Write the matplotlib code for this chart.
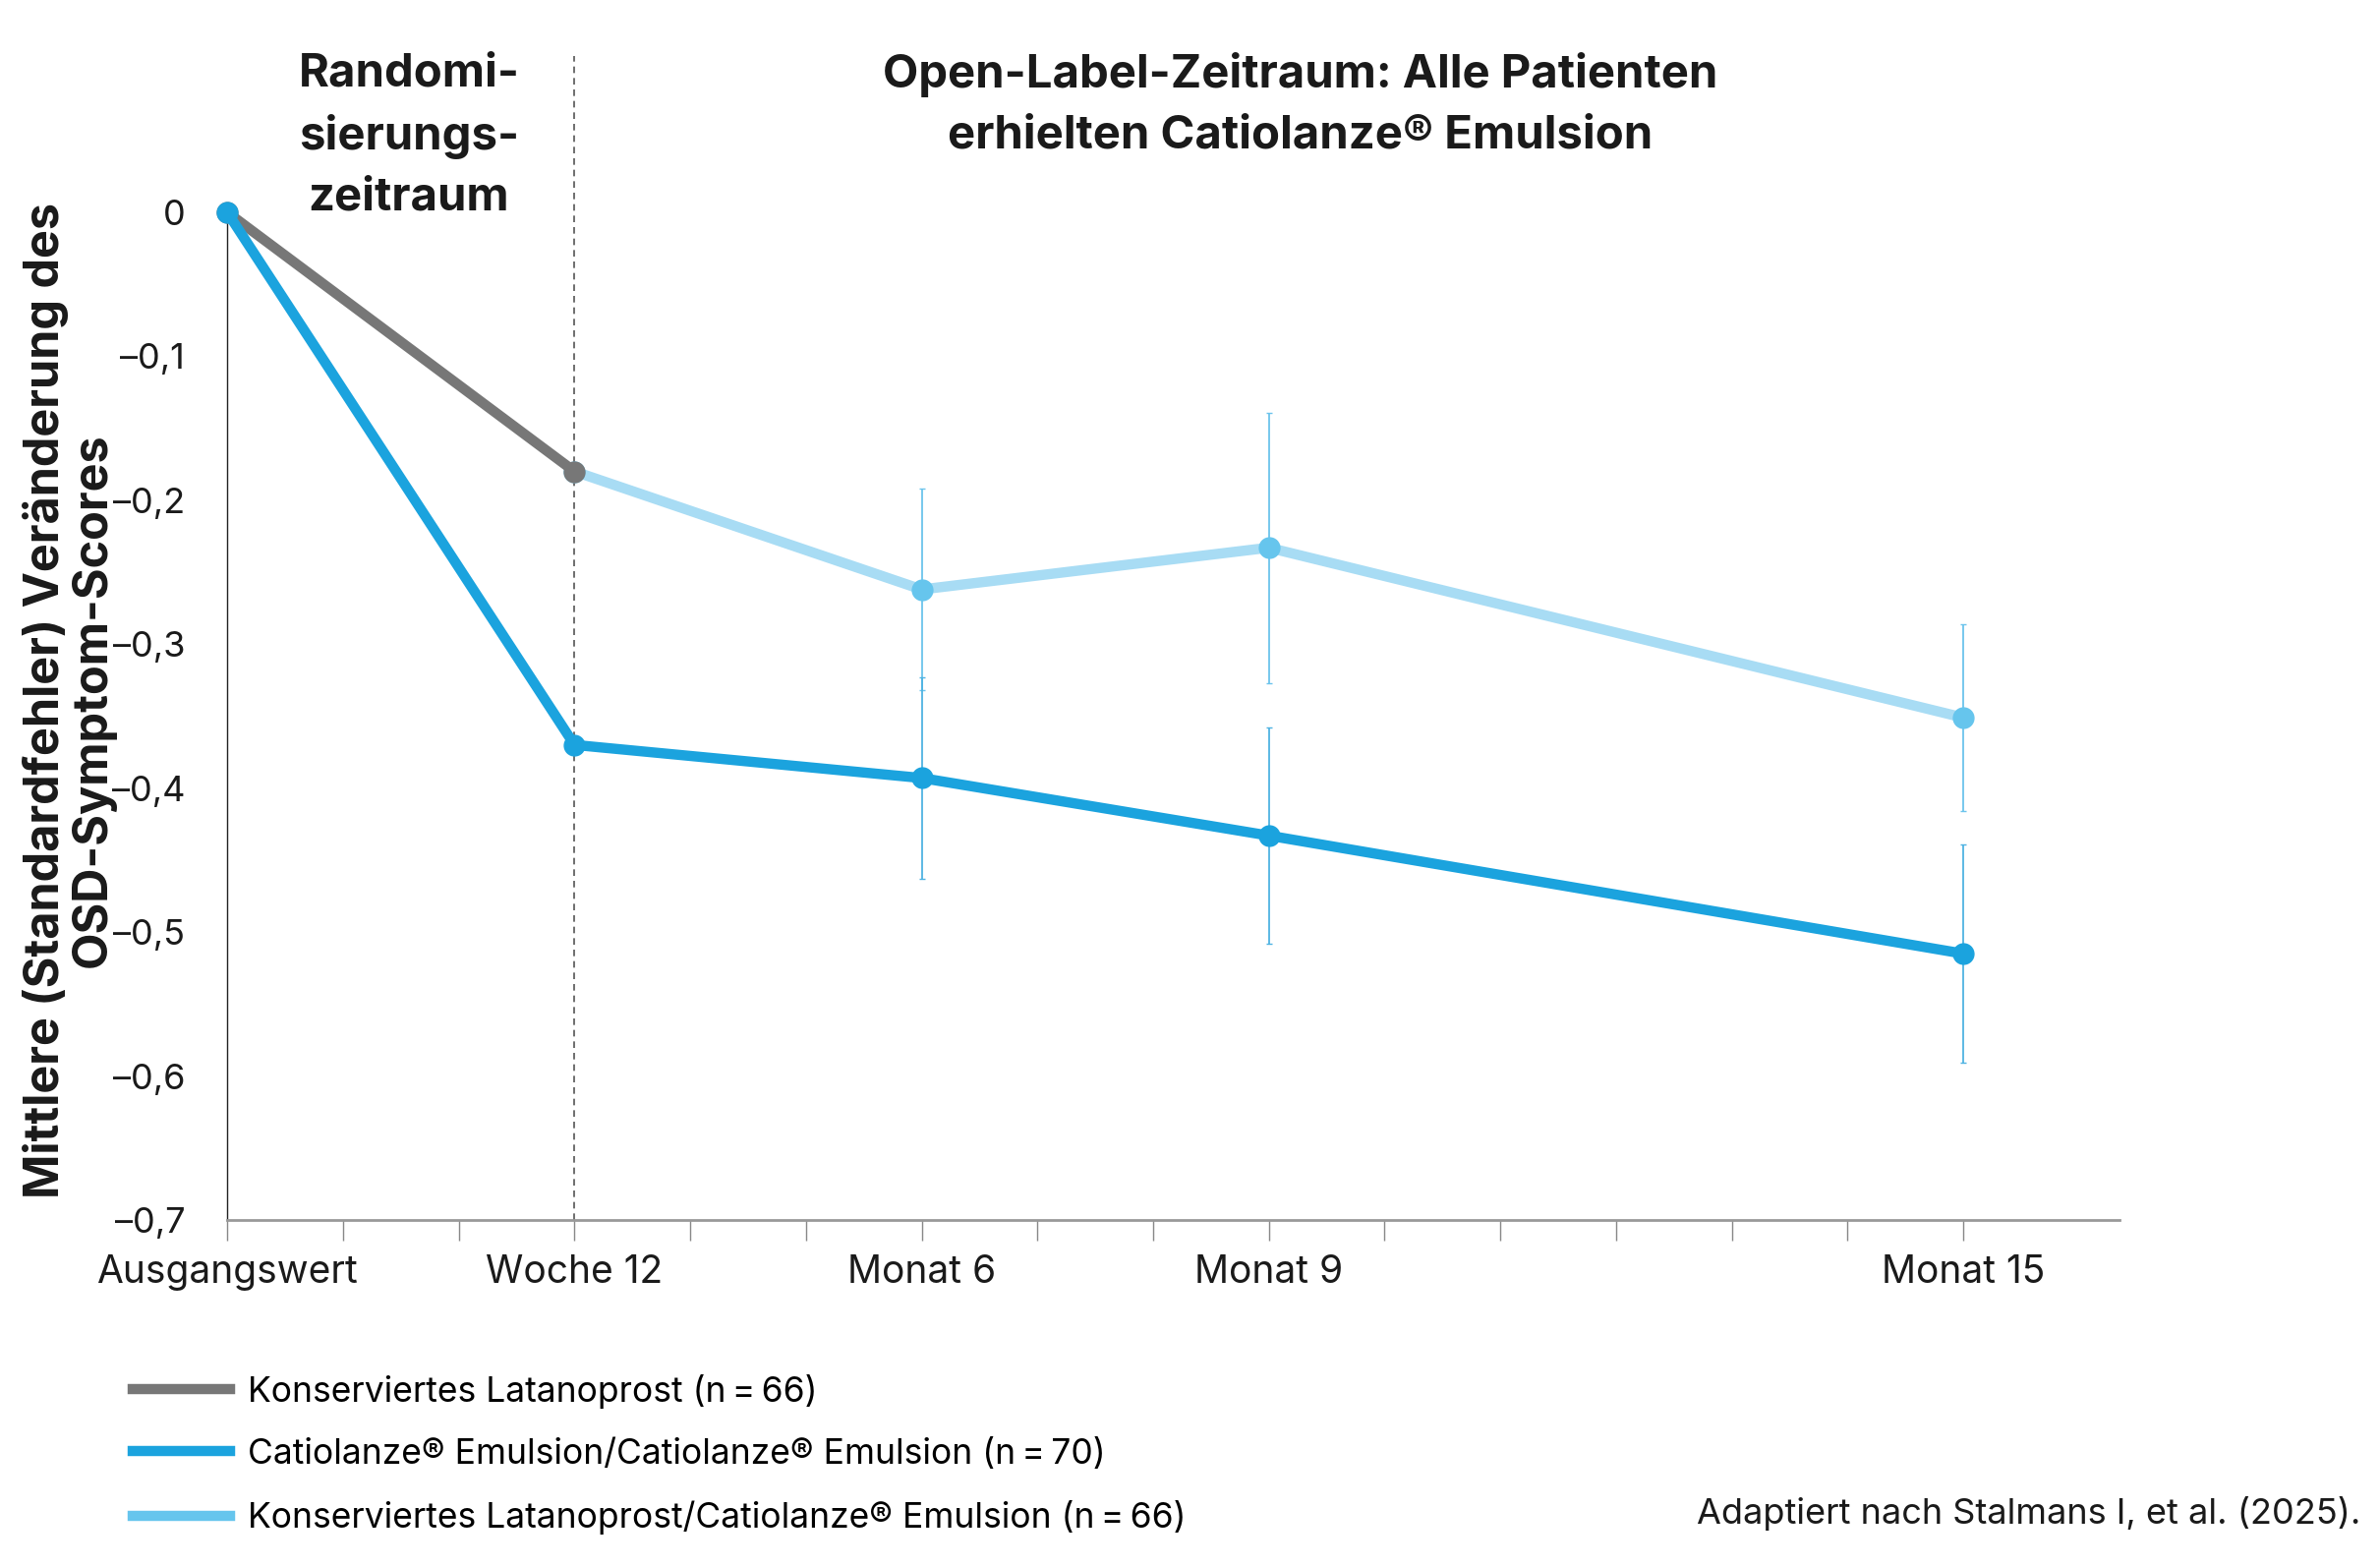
import matplotlib
matplotlib.use("Agg")
import matplotlib.pyplot as plt
from matplotlib.ticker import FixedLocator

plt.rcParams['font.family'] = ['Inter', 'DejaVu Sans']

# x positions of the visits (Ausgangswert, Woche 12, Monat 6, Monat 9, Monat 15)
x_pos = [0, 1, 2, 3, 5]
x_labels = ['Ausgangswert', 'Woche 12', 'Monat 6', 'Monat 9', 'Monat 15']

# Konserviertes Latanoprost (randomisation period)
gray_x = [0, 1]
gray_y = [0.0, -0.18]

# Catiolanze / Catiolanze
dark_x = [0, 1, 2, 3, 5]
dark_y = [0.0, -0.37, -0.393, -0.433, -0.515]
dark_err = [0, 0, 0.07, 0.075, 0.076]

# Latanoprost / Catiolanze (open label)
light_x = [1, 2, 3, 5]
light_y = [-0.18, -0.262, -0.233, -0.351]
light_err = [0, 0.07, 0.094, 0.065]

y_ticks = [0, -0.1, -0.2, -0.3, -0.4, -0.5, -0.6, -0.7]
y_ticklabels = ['0', '–0,1', '–0,2', '–0,3', '–0,4', '–0,5', '–0,6', '–0,7']

c_gray = '#777777'
c_dark = '#1ba3de'
c_light_line = '#a8dcf4'
c_light_mark = '#66c5ed'
c_err = '#6cc4ec'

fig = plt.figure(figsize=(24.21, 15.94), dpi=100)
ax = fig.add_axes([0.0955, 0.2215, 0.795, 0.6430])

# error bars
ax.errorbar(light_x[1:], light_y[1:], yerr=light_err[1:], fmt='none',
            ecolor=c_err, elinewidth=1.3, capsize=2, capthick=1.0, zorder=2)
ax.errorbar(dark_x[2:], dark_y[2:], yerr=dark_err[2:], fmt='none',
            ecolor='#4fb3e2', elinewidth=1.3, capsize=2, capthick=1.0, zorder=2)

l_light, = ax.plot(light_x, light_y, color=c_light_line, lw=7.5, marker='o',
                   markersize=15, markerfacecolor=c_light_mark,
                   markeredgecolor=c_light_mark, zorder=3, clip_on=False,
                   label='Konserviertes Latanoprost/Catiolanze® Emulsion (n\u2009=\u200966)')
l_gray, = ax.plot(gray_x, gray_y, color=c_gray, lw=7.5, marker='o',
                  markersize=15, zorder=4, clip_on=False,
                  label='Konserviertes Latanoprost (n\u2009=\u200966)')
l_dark, = ax.plot(dark_x, dark_y, color=c_dark, lw=7.5, marker='o',
                  markersize=15, zorder=5, clip_on=False,
                  label='Catiolanze® Emulsion/Catiolanze® Emulsion (n\u2009=\u200970)')

# dashed separator at Woche 12
ax.axvline(1, ymin=0, ymax=1.155, color='#555555', lw=1.2,
           linestyle=(0, (4, 3)), clip_on=False, zorder=1)

ax.set_xlim(0, 5.45)
ax.set_ylim(-0.7, 0)

ax.set_xticks(x_pos)
ax.set_xticklabels(x_labels, fontsize=28, color='#1a1a1a')
ax.xaxis.set_minor_locator(FixedLocator([k / 3 for k in range(16)]))
ax.tick_params(axis='x', which='both', length=15, width=1.0, color='#888888',
               direction='out', pad=10)
ax.set_yticks(y_ticks)
ax.set_yticklabels(y_ticklabels, fontsize=26, color='#1a1a1a')
ax.tick_params(axis='y', length=0, pad=31)

for s in ['top', 'right']:
    ax.spines[s].set_visible(False)
ax.spines['left'].set_color('#222222')
ax.spines['left'].set_linewidth(1.0)
ax.spines['bottom'].set_color('#999999')
ax.spines['bottom'].set_linewidth(2.0)

# period headings
ax.text(0.523, 1.159, 'Randomi-\nsierungs-\nzeitraum', transform=ax.get_xaxis_transform(),
        ha='center', va='top', fontsize=34, fontweight='bold', color='#1a1a1a',
        linespacing=1.52)
ax.text(3.09, 1.159, 'Open-Label-Zeitraum: Alle Patienten\nerhielten Catiolanze® Emulsion',
        transform=ax.get_xaxis_transform(), ha='center', va='top', fontsize=34,
        fontweight='bold', color='#1a1a1a', linespacing=1.52)

fig.text(0.0290, 0.553, 'Mittlere (Standardfehler) Veränderung des\nOSD-Symptom-Scores',
         rotation=90, ha='center', va='center', fontsize=35, fontweight='bold',
         color='#1a1a1a', linespacing=1.05)

leg = fig.legend(handles=[l_gray, l_dark, l_light], loc='upper left',
                 bbox_to_anchor=(0.050, 0.132), frameon=False, fontsize=25.5,
                 handlelength=2.8, handletextpad=0.5, labelspacing=0.85,
                 borderaxespad=0)
for h in leg.legend_handles:
    h.set_marker('')
    h.set_linewidth(7.5)
l_light_leg = leg.legend_handles[2]
l_light_leg.set_color(c_light_mark)

fig.text(0.992, 0.034, 'Adaptiert nach Stalmans I, et al. (2025).', ha='right',
         va='center', fontsize=26, color='#1a1a1a')

fig.savefig('out.png', dpi=100)
